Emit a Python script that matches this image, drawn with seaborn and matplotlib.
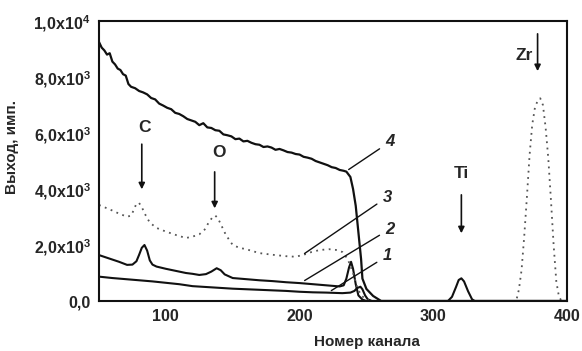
import pandas as pd
import seaborn as sns
import matplotlib.pyplot as plt

# Спектры РОР: номер канала -> выход (имп.)
ch_4 = [50, 52, 54, 56, 58, 60, 62, 64, 66, 68, 70, 72, 74, 77, 80, 83, 86, 89, 92, 95,
        98, 101, 104, 107, 110, 113, 116, 119, 122, 125, 128, 131, 134, 137, 140, 143, 146,
        149, 152, 155, 158, 161, 164, 167, 170, 173, 176, 179, 182, 185, 188, 191, 194, 197,
        200, 203, 206, 209, 212, 215, 218, 221, 224, 227, 230, 233, 235, 238, 240, 242, 244,
        246, 247, 250, 255, 261, 400]
y_4 = [9250, 9050, 8950, 8800, 8850, 8550, 8450, 8300, 8250, 8100, 8050, 7750, 7650, 7600,
       7500, 7450, 7380, 7250, 7200, 7050, 6980, 6900, 6850, 6720, 6680, 6600, 6500, 6450,
       6400, 6280, 6350, 6200, 6180, 6100, 6080, 5950, 5920, 5880, 5780, 5800, 5700, 5720,
       5650, 5600, 5580, 5500, 5520, 5480, 5400, 5430, 5380, 5320, 5300, 5250, 5230, 5150,
       5120, 5080, 5000, 4950, 4900, 4850, 4780, 4750, 4680, 4650, 4620, 4430, 4000, 3400,
       2450, 1500, 800, 430, 180, 0, 0]

ch_3 = [50, 55, 60, 65, 71, 74, 76, 78, 80, 82, 85, 88, 93, 100, 108, 115, 120, 125, 129,
        132, 135, 137, 139, 142, 145, 150, 155, 160, 170, 180, 190, 197, 203, 209, 215, 222,
        228, 232, 236, 240, 243, 246, 250, 255, 362, 364, 366, 368, 370, 372, 374, 376, 378,
        380, 382, 384, 386, 388, 390, 392, 394, 396, 400]
y_3 = [3430, 3330, 3230, 3120, 3010, 3050, 3250, 3480, 3500, 3350, 3050, 2800, 2610, 2480,
       2350, 2250, 2300, 2380, 2550, 2800, 3000, 3050, 2950, 2650, 2350, 2000, 1900, 1850,
       1710, 1650, 1600, 1580, 1650, 1750, 1820, 1850, 1820, 1750, 1500, 1000, 500, 200, 50,
       0, 0, 400, 1100, 2300, 3700, 5200, 6300, 6900, 7150, 7240, 7000, 6200, 5100, 3600,
       2000, 700, 150, 0, 0]

ch_2 = [50, 55, 60, 65, 71, 75, 78, 80, 82, 84, 86, 88, 90, 93, 100, 108, 115, 120, 125,
        130, 134, 138, 141, 144, 150, 160, 170, 180, 190, 200, 210, 220, 230, 233, 235, 237,
        238.5, 240, 242, 244, 247, 250, 311, 314, 317, 319, 321, 323, 326, 329, 331, 400]
y_2 = [1640, 1560, 1480, 1400, 1290, 1300, 1420, 1650, 1900, 2000, 1800, 1450, 1300, 1230,
       1150, 1070, 1000, 970, 930, 960, 1050, 1170, 1100, 950, 820, 780, 740, 710, 670, 640,
       600, 560, 520, 560, 800, 1200, 1400, 1150, 600, 200, 50, 0, 0, 150, 500, 750, 810,
       700, 350, 60, 0, 0]

ch_1 = [50, 60, 70, 80, 90, 100, 110, 120, 130, 140, 150, 160, 170, 180, 190, 200, 210,
        220, 232, 238, 241, 243, 245.5, 247, 249, 251, 254, 400]
y_1 = [870, 820, 780, 740, 700, 650, 600, 530, 500, 470, 440, 420, 400, 380, 360, 330, 310,
       300, 280, 300, 360, 460, 510, 420, 200, 60, 0, 0]

y_ticks = [0, 2000, 4000, 6000, 8000, 10000]
y_tick_labels = ["0,0", "2,0x10$^3$", "4,0x10$^3$", "6,0x10$^3$", "8,0x10$^3$", "1,0x10$^4$"]
x_ticks = [100, 200, 300, 400]

sns.set_style("white")
plt.rcParams['font.family'] = ['Liberation Sans', 'DejaVu Sans']
plt.rcParams['font.weight'] = 'bold'
plt.rcParams['mathtext.fontset'] = 'custom'
plt.rcParams['mathtext.rm'] = 'Liberation Sans:bold'
plt.rcParams['mathtext.default'] = 'rm'

fig = plt.figure(figsize=(5.82, 3.51), dpi=100)
ax = fig.add_axes([99 / 582, 50 / 351, 468 / 582, 280 / 351])

# кривые 1-4
sns.lineplot(x=ch_1, y=y_1, ax=ax, color="#111111", lw=1.5, sort=False)
sns.lineplot(x=ch_2, y=y_2, ax=ax, color="#111111", lw=1.5, sort=False)
sns.lineplot(x=ch_3, y=y_3, ax=ax, color="#555555", lw=1.3, linestyle=(0, (1, 2.5)), sort=False)
sns.lineplot(x=ch_4, y=y_4, ax=ax, color="#111111", lw=1.6, sort=False)

ax.set_xlim(50, 400)
ax.set_ylim(0, 10000)
ax.set_yticks(y_ticks)
ax.set_yticklabels(y_tick_labels)
ax.set_xticks(x_ticks)
ax.tick_params(axis="y", direction="out", length=4, width=1.2, labelsize=11.5, pad=2)
ax.tick_params(axis="x", direction="in", length=4, width=1.2, labelsize=11.5, pad=6)
for s in ax.spines.values():
    s.set_linewidth(1.5)
    s.set_color("#111111")

ax.set_xlabel("Номер канала", fontsize=11, fontweight="bold")
ax.set_ylabel("Выход, имп.", fontsize=11, fontweight="bold")
ax.xaxis.set_label_coords(0.573, -0.12)
ax.yaxis.set_label_coords(-0.17, 0.55)

# метки элементов
arrow = dict(arrowstyle="-|>", color="#111111", lw=1.2, mutation_scale=9)
ax.annotate("", xy=(82, 3890), xytext=(82, 5700), arrowprops=arrow)
ax.text(84, 6200, "C", fontsize=12.5, ha="center", va="center")
ax.annotate("", xy=(136.5, 3210), xytext=(136.5, 4710), arrowprops=arrow)
ax.text(140, 5290, "O", fontsize=12.5, ha="center", va="center")
ax.annotate("", xy=(321, 2320), xytext=(321, 3890), arrowprops=arrow)
ax.text(321, 4540, "Ti", fontsize=12.5, ha="center", va="center")
ax.annotate("", xy=(378, 8110), xytext=(378, 9640), arrowprops=arrow)
ax.text(368, 8750, "Zr", fontsize=12.5, ha="center", va="center")

# выноски с номерами кривых
lead = dict(arrowstyle="-", color="#111111", lw=1.0)
for num, (px, py), (tx, ty) in [("4", (235, 4640), (264, 5680)),
                                 ("3", (202, 1640), (262, 3710)),
                                 ("2", (202, 680), (264, 2570)),
                                 ("1", (222, 320), (262, 1610))]:
    ax.annotate(num, xy=(px, py), xytext=(tx, ty), fontsize=12, style="italic",
                fontweight="bold", ha="left", va="center", arrowprops=lead)

plt.savefig("out.png", dpi=100)
plt.close()
